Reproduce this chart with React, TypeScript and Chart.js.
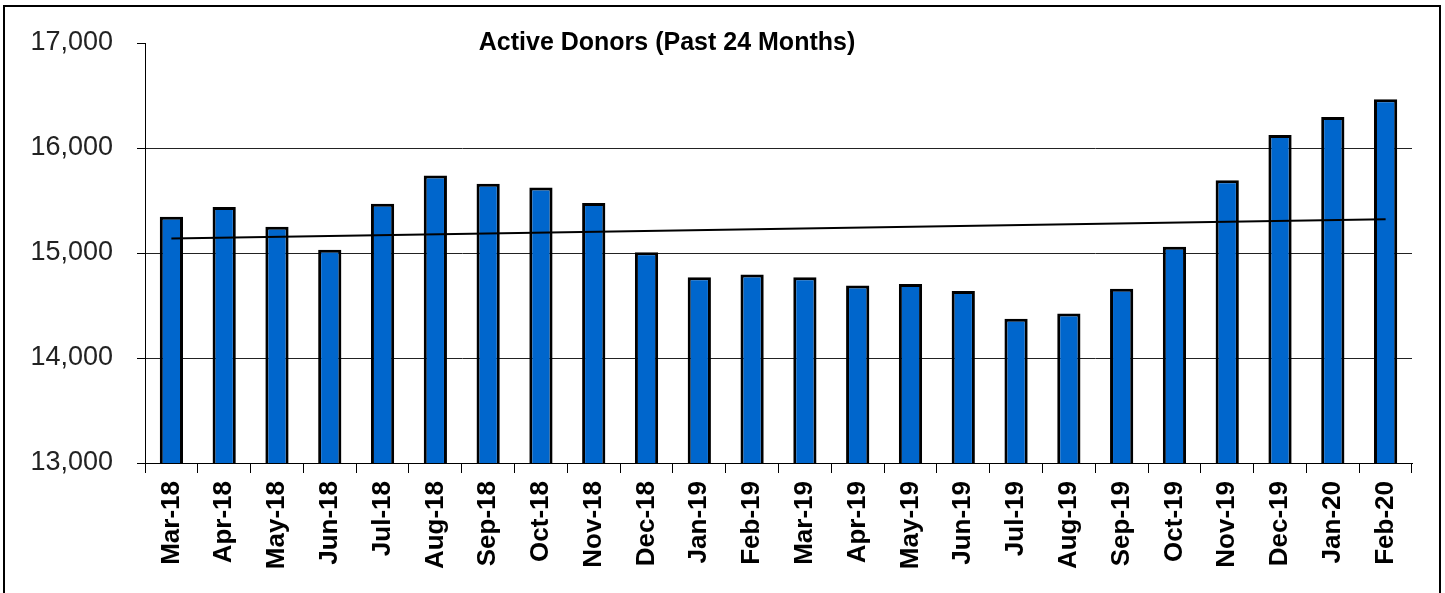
import React, { useEffect, useRef } from "react";
import { Chart, registerables } from "chart.js";

Chart.register(...registerables);

const categories = [
  "Mar-18", "Apr-18", "May-18", "Jun-18", "Jul-18", "Aug-18", "Sep-18", "Oct-18",
  "Nov-18", "Dec-18", "Jan-19", "Feb-19", "Mar-19", "Apr-19", "May-19", "Jun-19",
  "Jul-19", "Aug-19", "Sep-19", "Oct-19", "Nov-19", "Dec-19", "Jan-20", "Feb-20",
];

const activeDonors = [
  15345, 15437, 15251, 15031, 15468, 15739, 15660, 15623,
  15477, 15006, 14770, 14795, 14770, 14690, 14704, 14638,
  14374, 14425, 14660, 15059, 15692, 16123, 16295, 16465,
];

// Linear trendline endpoints (first and last month)
const trendEndpoints = [15138, 15321];

const yTicks = [13000, 14000, 15000, 16000, 17000];

const title = "Active Donors (Past 24 Months)";

const W = 1445;
const H = 593;

export default function App() {
  const ref = useRef<HTMLCanvasElement | null>(null);

  useEffect(() => {
    const canvas = ref.current;
    if (!canvas) return;

    const trendData: (number | null)[] = categories.map((_, i) =>
      i === 0 ? trendEndpoints[0] : i === categories.length - 1 ? trendEndpoints[1] : null
    );

    const framePlugin = {
      id: "frameAndTitle",
      beforeDraw(chart: any) {
        const ctx = chart.ctx;
        ctx.save();
        ctx.fillStyle = "#ffffff";
        ctx.fillRect(0, 0, chart.width, chart.height);
        ctx.strokeStyle = "#000000";
        ctx.lineWidth = 2;
        ctx.strokeRect(4, 6, 1436, 600);
        ctx.restore();
      },
      afterDraw(chart: any) {
        const ctx = chart.ctx;
        ctx.save();
        ctx.fillStyle = "#000000";
        ctx.font = 'bold 25px "Liberation Sans", Arial, sans-serif';
        ctx.textAlign = "center";
        ctx.textBaseline = "alphabetic";
        ctx.fillText(title, 667, 50);
        ctx.restore();
      },
    };

    const chart = new Chart(canvas, {
      type: "bar",
      data: {
        labels: categories,
        datasets: [
          {
            type: "line",
            label: "Trend",
            data: trendData,
            borderColor: "#000000",
            borderWidth: 2,
            pointRadius: 0,
            spanGaps: true,
            fill: false,
            order: 0,
          } as any,
          {
            type: "bar",
            label: "Active Donors",
            data: activeDonors,
            backgroundColor: "#0066CC",
            borderColor: "#000000",
            borderWidth: 3,
            categoryPercentage: 1,
            barPercentage: 0.44,
            order: 1,
          } as any,
        ],
      },
      options: {
        responsive: false,
        animation: false,
        devicePixelRatio: 1,
        layout: { padding: { top: 43, right: 33, left: 0, bottom: 0 } },
        plugins: {
          legend: { display: false },
          title: { display: false },
          tooltip: { enabled: false },
        },
        scales: {
          x: {
            offset: true,
            grid: {
              offset: true,
              drawOnChartArea: false,
              drawTicks: true,
              tickLength: 10,
              color: "#000000",
              lineWidth: 1,
            },
            border: { display: true, color: "#000000", width: 1 },
            ticks: {
              autoSkip: false,
              maxRotation: 90,
              minRotation: 90,
              padding: 8,
              color: "#000000",
              font: { family: '"Liberation Sans", Arial, sans-serif', size: 26, weight: "bold" },
            },
            afterFit(scale: any) {
              scale.height = 130;
            },
          },
          y: {
            min: 13000,
            max: 17000,
            afterBuildTicks(scale: any) {
              scale.ticks = yTicks.map((v) => ({ value: v }));
            },
            grid: {
              drawTicks: true,
              tickLength: 8,
              lineWidth: 1,
              color: (c: any) =>
                c.tick && (c.tick.value === 17000 || c.tick.value === 13000) ? "rgba(0,0,0,0)" : "#222222",
              tickColor: "#000000",
            },
            border: { display: true, color: "#000000", width: 1 },
            ticks: {
              padding: 24,
              color: "#222222",
              font: { family: '"Liberation Sans", Arial, sans-serif', size: 27 },
              callback: (v: any) => Number(v).toLocaleString("en-US"),
            },
            afterFit(scale: any) {
              scale.width = 145;
            },
          },
        },
      },
      plugins: [framePlugin],
    });

    return () => chart.destroy();
  }, []);

  return (
    <div style={{ position: "absolute", left: 0, top: 0, width: W, height: H, background: "#fff" }}>
      <canvas ref={ref} width={W} height={H} style={{ display: "block", width: W, height: H }} />
    </div>
  );
}
